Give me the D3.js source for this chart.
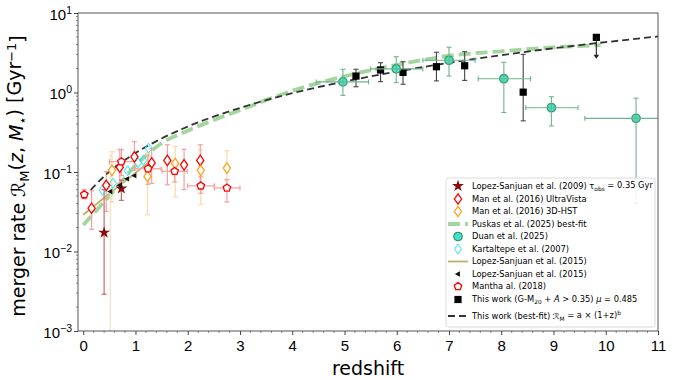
<!DOCTYPE html>
<html><head><meta charset="utf-8">
<script src="https://cdn.jsdelivr.net/npm/d3@7"></script>
<style>body{margin:0;background:#fff}svg{display:block;font-family:"DejaVu Sans",sans-serif}</style>
</head><body><svg id="c" width="675" height="380"></svg>
<script>
// ---------------- data ----------------
const xTicks = [0,1,2,3,4,5,6,7,8,9,10,11];
const yTicks = [1e-3,1e-2,1e-1,1,10];
const yTickExp = ["\u22123","\u22122","\u22121","0","1"];
// Lopez-Sanjuan 2009: [z, value, low, high]
const lsj09 = [[0.40,0.0173,0.0029,0.060],[0.73,0.062,0.044,0.079]];
// Man 2016 UltraVista: [z, value, low, high]
const manUV = [[0.16,0.035,0.019,0.058],[0.44,0.068,0.032,0.101],[0.70,0.115,0.072,0.193],[0.98,0.155,0.106,0.24],
               [1.31,0.13,0.072,0.197],[1.61,0.14,0.069,0.22],[1.93,0.123,0.06,0.193],[2.24,0.14,0.069,0.22]];
// Man 2016 3D-HST
const man3D = [[0.55,0.105,0.042,0.18],[1.23,0.088,0.029,0.17],[1.76,0.128,0.049,0.21],[2.25,0.105,0.039,0.19],[2.75,0.112,0.08,0.185]];
// Puskas 2025 best-fit curve samples: z, value
const puskasZ = [0,0.5,1,1.5,2,3,4,5,6,7,8,9,9.9];
const puskasV = [0.0215,0.05,0.12,0.23,0.33,0.6,1.05,1.6,2.22,2.9,3.3,3.7,3.95];
// Duan 2025: [z, value, low, high, zlow, zhigh]
const duan = [[4.97,1.36,0.92,1.96,4.46,5.46],[5.99,1.98,1.33,2.82,5.5,6.5],[7.0,2.54,1.61,3.71,6.5,7.5],
              [8.05,1.49,0.56,2.4,7.56,8.56],[8.96,0.644,0.38,0.885,8.47,9.47],[10.58,0.473,0.04,0.85,9.6,11.6]];
// Kartaltepe 2007: [z, value]
const kart = [[0.37,0.059],[0.57,0.072],[0.85,0.104],[1.05,0.131],[1.15,0.14],[1.25,0.2]];
// Lopez-Sanjuan 2015 line: z, value
const lsj15LineZ = [0,0.65,1.3];
const lsj15LineV = [0.029,0.064,0.14];
// Lopez-Sanjuan 2015 points: [z, value]
const lsj15 = [[0.52,0.057],[0.70,0.068],[0.84,0.082],[0.98,0.09]];
const lsj15Err = [[0.52,0.0001,0.17]];
// Mantha 2018: [z, value, low, high, zlow, zhigh]
const mantha = [[0.02,0.052,0.046,0.06,0.02,0.02],[0.73,0.135,0.09,0.19,0.5,0.98],[1.24,0.11,0.07,0.16,0.98,1.49],
                [1.75,0.102,0.075,0.14,1.51,1.99],[2.25,0.067,0.054,0.087,2.0,2.51],[2.75,0.063,0.042,0.08,2.51,3.0]];
// This work: [z, value, low, high]
const thisWork = [[5.22,1.61,1.18,1.96],[5.69,1.92,1.37,2.37],[6.12,1.79,1.27,2.44],[6.76,2.11,1.40,3.21],
                  [7.30,2.17,1.42,3.26],[8.42,1.01,0.44,3.02]];
// upper limit: [z, value, arrow end]
const thisWorkLim = [[9.82,4.94,2.69]];
// This work best-fit curve samples
const fitZ = [0,0.5,1,1.5,2,3,4,5,6,7,8,9,10,11];
const fitV = [0.047,0.101,0.173,0.264,0.373,0.64,0.98,1.37,1.83,2.36,2.95,3.6,4.3,5.07];

// ---------------- layout ----------------
const L=78,R=658,T=13,B=331;
const svg = d3.select("#c");
const x = d3.scaleLinear().domain([-0.1,11]).range([L,R]);
const y = d3.scaleLog().domain([1e-3,10]).range([B,T]);

svg.append("defs").append("clipPath").attr("id","clip").append("rect")
   .attr("x",L).attr("y",T).attr("width",R-L).attr("height",B-T);
const plot = svg.append("g").attr("clip-path","url(#clip)");

// ---------------- marker shapes ----------------
function thinDiamond(h,w){return `M0,${-h}L${w},0L0,${h}L${-w},0Z`;}
function pentagon(r){const p=[];for(let k=0;k<5;k++){const a=(-90+72*k)*Math.PI/180;p.push([r*Math.cos(a),r*Math.sin(a)]);}return "M"+p.map(d=>d.join(",")).join("L")+"Z";}
function leftTri(r){return `M${-r},0L${r*0.6},${-r*0.85}L${r*0.6},${r*0.85}Z`;}
const starPath = d3.symbol(d3.symbolStar,44)();
const squarePath = d3.symbol(d3.symbolSquare,52)();
const circlePath = d3.symbol(d3.symbolCircle,56)();

function vErr(g,cx,lo,hi,color,width,cap){
  const y1=y(Math.max(lo,1e-6)), y2=y(hi);
  g.append("line").attr("x1",cx).attr("x2",cx).attr("y1",y1).attr("y2",y2).attr("stroke",color).attr("stroke-width",width);
  if(cap>0){
    g.append("line").attr("x1",cx-cap).attr("x2",cx+cap).attr("y1",y1).attr("y2",y1).attr("stroke",color).attr("stroke-width",width);
    g.append("line").attr("x1",cx-cap).attr("x2",cx+cap).attr("y1",y2).attr("y2",y2).attr("stroke",color).attr("stroke-width",width);
  }
}
function hErr(g,cy,x1,x2,color,width,cap){
  g.append("line").attr("x1",x1).attr("x2",x2).attr("y1",cy).attr("y2",cy).attr("stroke",color).attr("stroke-width",width);
  if(cap>0){
    [x1,x2].forEach(xx=>g.append("line").attr("x1",xx).attr("x2",xx).attr("y1",cy-cap).attr("y2",cy+cap).attr("stroke",color).attr("stroke-width",width));
  }
}

// ---------------- lines ----------------
const lineGen = d3.line().curve(d3.curveMonotoneX);
plot.append("path").attr("d",lineGen(lsj15LineZ.map((z,i)=>[x(z),y(lsj15LineV[i])])))
    .attr("fill","none").attr("stroke","#b9b26a").attr("stroke-width",1.8);
plot.append("path").attr("d",lineGen(puskasZ.map((z,i)=>[x(z),y(puskasV[i])])))
    .attr("fill","none").attr("stroke","#a3d69d").attr("stroke-width",3.8).attr("stroke-dasharray","12,5");

// ---------------- error bars ----------------
const eg = plot.append("g");
lsj15Err.forEach(d=>vErr(eg,x(d[0]),d[1],d[2],"#efe6cf",1.5,0));
man3D.forEach(d=>vErr(eg,x(d[0]),d[2],d[3],"#fdd9a6",1.2,2.5));
manUV.forEach(d=>vErr(eg,x(d[0]),d[2],d[3],"#f3a0a0",1.2,2.5));
mantha.forEach(d=>{vErr(eg,x(d[0]),d[2],d[3],"#f3a0a0",1.2,2.5); if(d[5]>d[4]) hErr(eg,y(d[1]),x(d[4]),x(d[5]),"#f3a0a0",1.2,2.5);});
lsj09.forEach(d=>vErr(eg,x(d[0]),d[2],d[3],"#cc6a6a",1.2,2.5));
thisWork.forEach(d=>vErr(eg,x(d[0]),d[2],d[3],"#444",1.1,2.5));

// ---------------- best-fit dashed ----------------
plot.append("path").attr("d",lineGen(fitZ.map((z,i)=>[x(z),y(fitV[i])])))
    .attr("fill","none").attr("stroke","#333").attr("stroke-width",1.8).attr("stroke-dasharray","7,4");

// ---------------- markers ----------------
const mg = plot.append("g");
function place(data,path,attrs){
  data.forEach(d=>{const p=mg.append("path").attr("d",path).attr("transform",`translate(${x(d[0])},${y(d[1])})`);
    Object.entries(attrs).forEach(([k,v])=>p.attr(k,v));});
}
place(kart,thinDiamond(5,3.4),{fill:"none",stroke:"#22e6f2","stroke-width":1});
place(manUV,thinDiamond(5.2,3.6),{fill:"#fff",stroke:"#f00","stroke-width":1.3});
place(man3D,thinDiamond(5.2,3.6),{fill:"#fff",stroke:"#ffa21a","stroke-width":1.3});
place(mantha,pentagon(3.9),{fill:"#fff",stroke:"#f00","stroke-width":1.3});
place(lsj09,starPath,{fill:"#8b0a0a"});
place(lsj15,leftTri(3.2),{fill:"#111"});
place(thisWork,squarePath,{fill:"#000"});
place(thisWorkLim,squarePath,{fill:"#000"});
thisWorkLim.forEach(d=>{
  mg.append("line").attr("x1",x(d[0])).attr("x2",x(d[0])).attr("y1",y(d[1])).attr("y2",y(d[2])-3).attr("stroke","#222").attr("stroke-width",1.1);
  mg.append("path").attr("d",`M${x(d[0])-2.8},${y(d[2])-3.5}L${x(d[0])+2.8},${y(d[2])-3.5}L${x(d[0])},${y(d[2])+0.5}Z`).attr("fill","#222");
});
place(duan,circlePath,{fill:"#3de6d6",stroke:"#3b9a62","stroke-width":1.3});
duan.forEach(d=>{vErr(mg,x(d[0]),d[2],d[3],"#6fb38c",1.1,2.5); hErr(mg,y(d[1]),x(d[4]),x(d[5]),"#6fb38c",1.1,2.5);});

// ---------------- axes ----------------
svg.append("rect").attr("x",L).attr("y",T).attr("width",R-L).attr("height",B-T).attr("fill","none").attr("stroke","#444").attr("stroke-width",0.9);
const ax = svg.append("g").attr("transform",`translate(0,${B})`)
  .call(d3.axisBottom(x).tickValues(xTicks).tickSize(4).tickSizeOuter(0).tickFormat(d=>d));
ax.select(".domain").remove();
ax.selectAll("text").attr("font-size",15).attr("fill","#000").attr("dy","0.85em");
ax.selectAll("line").attr("stroke","#444");
const xMinor=[]; for(let v=0;v<=11.001;v+=0.2){ if(Math.abs(v-Math.round(v))>0.01) xMinor.push(v); }
svg.append("g").selectAll("line").data(xMinor).join("line")
  .attr("x1",d=>x(d)).attr("x2",d=>x(d)).attr("y1",B).attr("y2",B+2).attr("stroke","#555").attr("stroke-width",0.7);

const ay = svg.append("g").attr("transform",`translate(${L},0)`)
  .call(d3.axisLeft(y).tickValues(yTicks).tickSize(4).tickSizeOuter(0).tickFormat(()=>""));
ay.select(".domain").remove();
ay.selectAll("line").attr("stroke","#444");
ay.selectAll(".tick").each(function(d,i){
  const t=d3.select(this).select("text").attr("font-size",15).attr("fill","#000").attr("x",-6).attr("dy","0.4em");
  t.text("10");
  t.append("tspan").attr("dy","-0.55em").attr("font-size",10.5).text(yTickExp[i]);
});
const yMinor=[]; [1e-3,1e-2,1e-1,1].forEach(dec=>{for(let k=2;k<=9;k++) yMinor.push(dec*k);});
svg.append("g").selectAll("line").data(yMinor).join("line")
  .attr("x1",L-2).attr("x2",L).attr("y1",d=>y(d)).attr("y2",d=>y(d)).attr("stroke","#555").attr("stroke-width",0.7);

// axis labels
svg.append("text").attr("x",(L+R)/2).attr("y",375).attr("text-anchor","middle").attr("font-size",19).text("redshift");
const yl = svg.append("text").attr("transform",`translate(25,${(T+B)/2+4}) rotate(-90)`).attr("text-anchor","middle").attr("font-size",19);
yl.append("tspan").text("merger rate ");
yl.append("tspan").attr("font-style","italic").text("\u211B");
yl.append("tspan").attr("font-size",13).attr("dy","0.3em").text("M");
yl.append("tspan").attr("dy","-0.3em").text("(");
yl.append("tspan").attr("font-style","italic").text("z");
yl.append("tspan").text(", ");
yl.append("tspan").attr("font-style","italic").text("M");
yl.append("tspan").attr("font-size",13).attr("dy","0.3em").text("\u22C6");
yl.append("tspan").attr("dy","-0.3em").text(") [Gyr");
yl.append("tspan").attr("font-size",13).attr("dy","-0.45em").text("\u22121");
yl.append("tspan").attr("dy","0.45em").text("]");

// ---------------- legend ----------------
const lg = svg.append("g");
lg.append("rect").attr("x",446).attr("y",178).attr("width",209).attr("height",149).attr("rx",2.5)
  .attr("fill","#fff").attr("fill-opacity",0.85).attr("stroke","#d6d6d6").attr("stroke-width",0.9);
const mx=458, tx=472;
const rows=[186,199,211.5,224,236.5,249,261.5,274,286.5,299.5,316];
function lmark(i,path,attrs){const p=lg.append("path").attr("d",path).attr("transform",`translate(${mx},${rows[i]})`);Object.entries(attrs).forEach(([k,v])=>p.attr(k,v));}
lmark(0,starPath,{fill:"#8b0a0a"});
lmark(1,thinDiamond(5.2,3.6),{fill:"#fff",stroke:"#f00","stroke-width":1.3});
lmark(2,thinDiamond(5.2,3.6),{fill:"#fff",stroke:"#ffa21a","stroke-width":1.3});
lg.append("line").attr("x1",mx-10).attr("x2",mx+10).attr("y1",rows[3]).attr("y2",rows[3]).attr("stroke","#a3d69d").attr("stroke-width",3.8).attr("stroke-dasharray","12,5");
lmark(4,circlePath,{fill:"#3de6d6",stroke:"#3b9a62","stroke-width":1.3});
lmark(5,thinDiamond(5,3.4),{fill:"none",stroke:"#22e6f2","stroke-width":1});
lg.append("line").attr("x1",mx-10).attr("x2",mx+10).attr("y1",rows[6]).attr("y2",rows[6]).attr("stroke","#b9b26a").attr("stroke-width",1.8);
lmark(7,leftTri(3.2),{fill:"#111"});
lmark(8,pentagon(3.9),{fill:"#fff",stroke:"#f00","stroke-width":1.3});
lmark(9,squarePath,{fill:"#000"});
lg.append("line").attr("x1",mx-10).attr("x2",mx+10).attr("y1",rows[10]).attr("y2",rows[10]).attr("stroke","#333").attr("stroke-width",1.8).attr("stroke-dasharray","7,4");
const LF=8.3, LS=5.9;
function ltext(i){return lg.append("text").attr("x",tx).attr("y",rows[i]).attr("dy","0.35em").attr("font-size",LF);}
let t0=ltext(0); t0.append("tspan").text("Lopez-Sanjuan et al. (2009) \u03C4"); t0.append("tspan").attr("font-size",LS).attr("dy","0.3em").text("obs"); t0.append("tspan").attr("dy","-0.3em").text(" = 0.35 Gyr");
ltext(1).text("Man et al. (2016) UltraVista");
ltext(2).text("Man et al. (2016) 3D-HST");
ltext(3).text("Puskas et al. (2025) best-fit");
ltext(4).text("Duan et al. (2025)");
ltext(5).text("Kartaltepe et al. (2007)");
ltext(6).text("Lopez-Sanjuan et al. (2015)");
ltext(7).text("Lopez-Sanjuan et al. (2015)");
ltext(8).text("Mantha al. (2018)");
let t9=ltext(9); t9.append("tspan").text("This work (G-M"); t9.append("tspan").attr("font-size",LS).attr("dy","0.3em").text("20"); t9.append("tspan").attr("dy","-0.3em").text(" + ");
t9.append("tspan").attr("font-style","italic").text("A"); t9.append("tspan").text(" > 0.35) "); t9.append("tspan").attr("font-style","italic").text("\u03BC"); t9.append("tspan").text(" = 0.485");
let t10=ltext(10); t10.append("tspan").text("This work (best-fit) "); t10.append("tspan").attr("font-style","italic").text("\u211B");
t10.append("tspan").attr("font-size",LS).attr("dy","0.3em").text("M"); t10.append("tspan").attr("dy","-0.3em").text(" = a \u00D7 (1+z)");
t10.append("tspan").attr("font-size",LS).attr("dy","-0.5em").text("b");
</script></body></html>
